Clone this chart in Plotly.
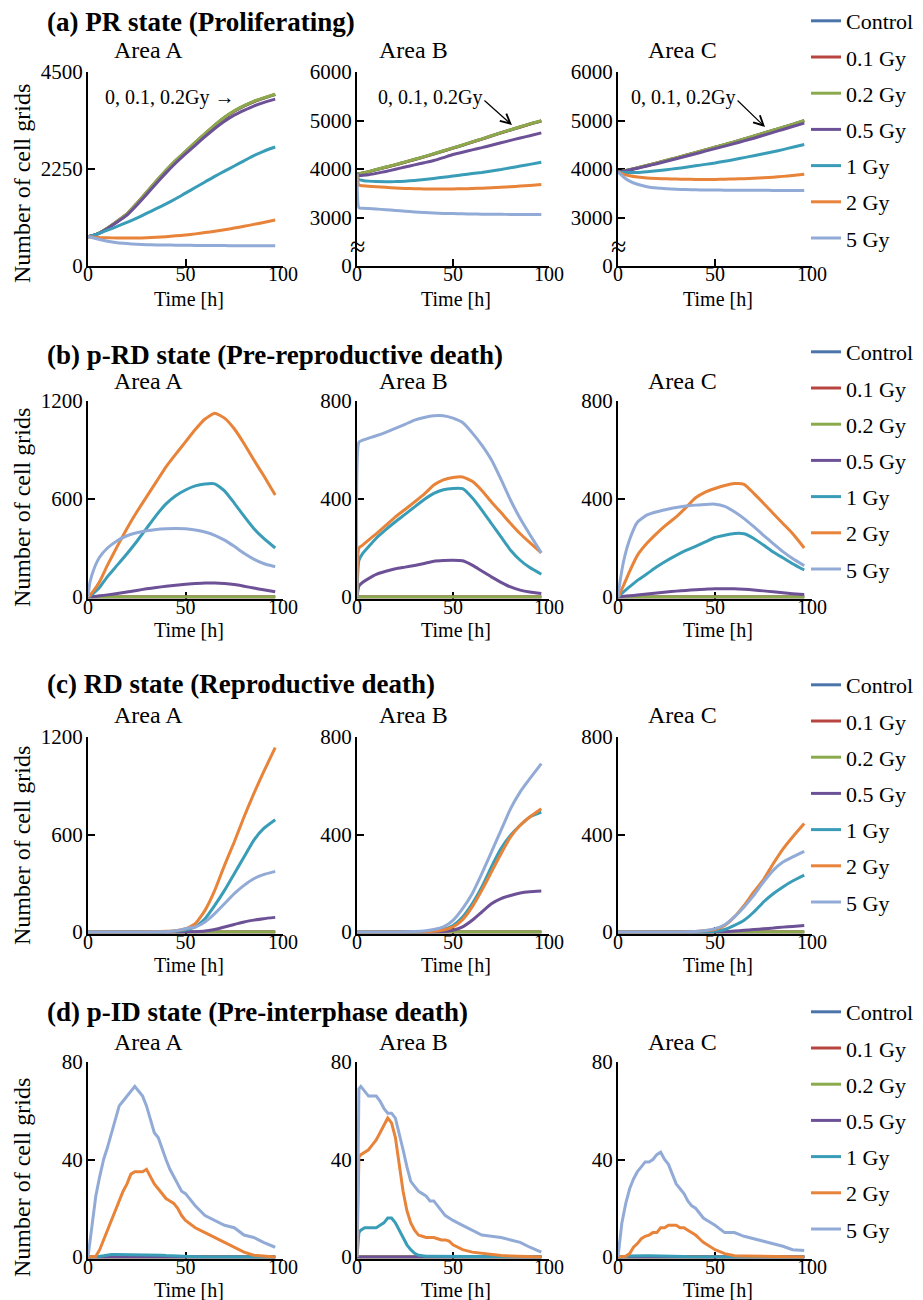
import plotly.graph_objects as go
from plotly.subplots import make_subplots

W, H = 923, 1300
FONT = "Liberation Serif, Times New Roman, serif"

DOSES = ["Control", "0.1 Gy", "0.2 Gy", "0.5 Gy", "1 Gy", "2 Gy", "5 Gy"]
COLORS = ["#4A74AA", "#B8443F", "#8BAA4B", "#6D5196", "#3A9DB8", "#E8833A", "#92ABD6"]

AREAS = ["Area A", "Area B", "Area C"]
ROW_TITLES = [
    "(a) PR state (Proliferating)",
    "(b) p-RD state (Pre-reproductive death)",
    "(c) RD state (Reproductive death)",
    "(d) p-ID state (Pre-interphase death)",
]
X_TITLE = "Time [h]"
Y_TITLE = "Number of cell grids"

# time points [h]
TIME = [0, 1, 3, 6, 10, 15, 20, 25, 30, 35, 40, 45, 50, 55, 60, 65, 70, 75, 80, 85, 90, 96]
TIME_PID = [0, 1, 2, 4, 6, 8, 10, 12, 14, 16, 18, 20, 22, 24, 26, 28, 30, 32, 34, 36, 38,
            40, 42, 44, 46, 48, 50, 55, 60, 65, 70, 75, 80, 85, 90, 96]

ZERO = [0, 0, 0, 0, 0, 0, 0, 0, 0, 0, 0, 0, 0, 0, 0, 0, 0, 0, 0, 0, 0, 0]
ZERO_PID = [0, 0, 0, 0, 0, 0, 0, 0, 0, 0, 0, 0, 0, 0, 0, 0, 0, 0, 0, 0, 0, 0, 0, 0, 0, 0,
            0, 0, 0, 0, 0, 0, 0, 0, 0, 0]

# ---- (a) PR state: series in DOSES order ----
PR_AREA_A = [
    [680, 688, 712, 768, 875, 1035, 1205, 1445, 1700, 1960, 2210, 2440, 2650, 2860, 3060, 3260, 3440, 3590, 3710, 3810, 3890, 3975],
    [680, 689, 714, 769, 878, 1038, 1208, 1448, 1705, 1965, 2215, 2445, 2655, 2865, 3065, 3265, 3445, 3595, 3715, 3815, 3895, 3980],
    [680, 690, 715, 770, 880, 1040, 1210, 1450, 1710, 1970, 2220, 2450, 2660, 2870, 3070, 3270, 3450, 3600, 3720, 3820, 3900, 3985],
    [680, 688, 712, 765, 870, 1020, 1180, 1410, 1660, 1915, 2160, 2390, 2600, 2800, 3000, 3190, 3360, 3500, 3610, 3710, 3790, 3870],
    [680, 690, 715, 760, 830, 920, 1010, 1110, 1220, 1330, 1440, 1560, 1690, 1820, 1950, 2080, 2200, 2320, 2440, 2560, 2660, 2760],
    [680, 675, 668, 660, 655, 650, 648, 650, 655, 665, 680, 700, 720, 745, 775, 805, 840, 880, 920, 965, 1010, 1065],
    [680, 672, 650, 615, 575, 540, 520, 505, 495, 490, 486, 483, 480, 478, 476, 474, 473, 472, 471, 470, 469, 468],
]
PR_AREA_B = [
    [3900, 3900, 3915, 3940, 3985, 4035, 4085, 4140, 4195, 4250, 4310, 4370, 4430, 4490, 4555, 4615, 4680, 4745, 4805, 4865, 4925, 4990],
    [3900, 3902, 3917, 3942, 3987, 4037, 4087, 4142, 4197, 4252, 4312, 4372, 4432, 4492, 4557, 4617, 4682, 4747, 4807, 4867, 4927, 4992],
    [3900, 3905, 3920, 3945, 3990, 4040, 4090, 4145, 4200, 4255, 4315, 4375, 4435, 4495, 4560, 4620, 4685, 4750, 4810, 4870, 4930, 4995],
    [3900, 3865, 3870, 3880, 3910, 3950, 3995, 4040, 4085, 4130, 4175, 4235, 4300, 4345, 4395, 4440, 4490, 4540, 4590, 4640, 4685, 4745],
    [3900, 3780, 3765, 3750, 3740, 3737, 3740, 3750, 3765, 3785, 3805, 3830, 3855, 3880, 3905, 3930, 3960, 3990, 4025, 4060, 4095, 4140],
    [3900, 3665, 3655, 3645, 3635, 3622, 3610, 3600, 3593, 3590, 3588, 3588, 3590, 3593, 3598, 3605, 3612, 3622, 3635, 3648, 3662, 3680],
    [3900, 3200, 3192, 3185, 3175, 3160, 3145, 3130, 3115, 3102, 3092, 3085, 3080, 3076, 3072, 3069, 3067, 3065, 3064, 3063, 3062, 3062],
]
PR_AREA_C = [
    [3940, 3944, 3958, 3983, 4022, 4072, 4122, 4177, 4227, 4282, 4337, 4392, 4447, 4502, 4557, 4617, 4677, 4737, 4797, 4857, 4917, 4995],
    [3940, 3945, 3959, 3984, 4023, 4073, 4123, 4178, 4228, 4283, 4338, 4393, 4448, 4503, 4558, 4618, 4678, 4738, 4798, 4858, 4918, 4997],
    [3940, 3945, 3960, 3985, 4025, 4075, 4125, 4180, 4230, 4285, 4340, 4395, 4450, 4505, 4560, 4620, 4680, 4740, 4800, 4860, 4920, 5000],
    [3940, 3943, 3955, 3978, 4015, 4062, 4110, 4160, 4210, 4262, 4315, 4368, 4420, 4472, 4525, 4580, 4635, 4695, 4755, 4815, 4875, 4945],
    [3940, 3935, 3930, 3928, 3930, 3945, 3965, 3985, 4010, 4035, 4065, 4095, 4125, 4160, 4195, 4235, 4275, 4315, 4355, 4400, 4450, 4505],
    [3940, 3920, 3890, 3860, 3835, 3815, 3805, 3797, 3792, 3788, 3786, 3785, 3786, 3789, 3794, 3800, 3808, 3818, 3832, 3848, 3866, 3890],
    [3940, 3905, 3830, 3750, 3685, 3635, 3608, 3592, 3582, 3576, 3571, 3568, 3566, 3564, 3563, 3562, 3561, 3560, 3559, 3558, 3558, 3557],
]

# ---- (b) p-RD state ----
PRD_AREA_A = [
    ZERO, ZERO, ZERO,
    [0, 1, 3, 7, 13, 21, 30, 40, 50, 58, 66, 72, 78, 82, 85, 85, 82, 76, 66, 55, 44, 32],
    [0, 5, 25, 60, 125, 195, 265, 340, 420, 500, 570, 620, 655, 680, 692, 693, 650, 575, 495, 420, 360, 300],
    [0, 10, 40, 95, 195, 310, 420, 520, 613, 705, 797, 875, 950, 1025, 1090, 1125, 1095, 1030, 940, 840, 745, 625],
    [0, 90, 170, 245, 300, 345, 375, 393, 405, 413, 418, 420, 418, 410, 398, 378, 348, 310, 268, 232, 205, 185],
]
PRD_AREA_B = [
    ZERO, ZERO, ZERO,
    [0, 45, 60, 75, 92, 105, 115, 122, 129, 137, 146, 149, 150, 148, 130, 106, 82, 60, 41, 28, 20, 14],
    [0, 150, 178, 205, 240, 275, 307, 337, 368, 398, 423, 438, 443, 442, 405, 355, 300, 245, 191, 150, 120, 93],
    [0, 200, 212, 232, 258, 292, 327, 357, 388, 420, 457, 478, 488, 490, 472, 435, 388, 345, 300, 258, 222, 180],
    [0, 632, 640, 648, 658, 672, 688, 705, 722, 733, 740, 740, 730, 712, 670, 620, 560, 480, 395, 320, 255, 180],
]
PRD_AREA_C = [
    ZERO, ZERO, ZERO,
    [0, 1, 3, 5, 8, 12, 16, 20, 24, 27, 30, 32, 34, 34, 34, 32, 29, 25, 21, 17, 13, 10],
    [0, 8, 22, 42, 68, 95, 123, 148, 170, 190, 207, 225, 243, 252, 259, 258, 239, 212, 184, 160, 136, 110],
    [0, 15, 50, 105, 170, 220, 260, 295, 327, 365, 405, 428, 443, 455, 463, 460, 423, 383, 341, 300, 259, 200],
    [0, 60, 150, 235, 305, 335, 348, 357, 365, 371, 375, 378, 379, 370, 348, 320, 287, 252, 218, 185, 157, 128],
]

# ---- (c) RD state ----
RD_AREA_A = [
    ZERO, ZERO, ZERO,
    [0, 0, 0, 0, 0, 0, 0, 0, 0, 0, 0, 0, 0, 2, 6, 15, 31, 46, 62, 73, 82, 90],
    [0, 0, 0, 0, 0, 0, 0, 0, 0, 0, 1, 4, 12, 31, 82, 164, 256, 359, 461, 564, 636, 691],
    [0, 0, 0, 0, 0, 0, 0, 0, 1, 2, 4, 8, 20, 51, 133, 256, 410, 554, 708, 851, 984, 1134],
    [0, 0, 0, 0, 0, 0, 0, 0, 0, 1, 2, 8, 20, 31, 62, 113, 174, 236, 287, 328, 353, 373],
]
RD_AREA_B = [
    ZERO, ZERO, ZERO,
    [0, 0, 0, 0, 0, 0, 0, 0, 0, 0, 0, 2, 7, 21, 48, 82, 116, 137, 150, 160, 165, 168],
    [0, 0, 0, 0, 0, 0, 0, 0, 0, 1, 4, 10, 27, 62, 116, 185, 267, 342, 397, 438, 472, 492],
    [0, 0, 0, 0, 0, 0, 0, 0, 0, 1, 3, 8, 21, 51, 103, 171, 246, 321, 390, 438, 472, 506],
    [0, 0, 0, 0, 0, 0, 0, 1, 2, 4, 10, 21, 48, 96, 157, 239, 328, 417, 506, 575, 629, 691],
]
RD_AREA_C = [
    ZERO, ZERO, ZERO,
    [0, 0, 0, 0, 0, 0, 0, 0, 0, 0, 0, 0, 0, 1, 4, 7, 10, 13, 16, 20, 23, 27],
    [0, 0, 0, 0, 0, 0, 0, 0, 0, 0, 0, 0, 3, 10, 27, 48, 82, 123, 157, 185, 209, 233],
    [0, 0, 0, 0, 0, 0, 0, 0, 0, 0, 2, 5, 10, 27, 62, 109, 164, 215, 280, 340, 390, 445],
    [0, 0, 0, 0, 0, 0, 0, 0, 0, 1, 2, 6, 14, 30, 62, 103, 150, 205, 253, 287, 308, 331],
]

# ---- (d) p-ID state ----
PID_AREA_A = [
    ZERO_PID, ZERO_PID, ZERO_PID, ZERO_PID,
    [0, 0, 0, 0, 0.3, 0.5, 0.8, 1, 1, 1, 1, 1, 1, 1, 1, 1, 1, 1, 1, 0.8, 0.7, 0.6, 0.5, 0.4,
     0.3, 0.3, 0.2, 0.1, 0, 0, 0, 0, 0, 0, 0, 0],
    [0, 0, 0, 0.3, 3, 7, 11, 15, 19, 23, 27, 30, 34, 35, 35, 35, 36, 33, 30, 28, 26, 24, 23, 22,
     20, 17, 15, 12, 10, 8, 6, 4, 2, 0.7, 0.3, 0],
    [0, 6, 14, 25, 33, 40, 45, 51, 57, 62, 64, 66, 68, 70, 68, 66, 62, 56, 51, 49, 44, 40, 36, 33,
     30, 27, 26, 21, 17, 15, 13, 12, 9, 8, 6, 4],
]
PID_AREA_B = [
    ZERO_PID, ZERO_PID, ZERO_PID, ZERO_PID,
    [0, 10, 11, 12, 12, 12, 12, 13, 14, 16, 16, 14, 11, 8, 5, 3, 1.5, 0.7, 0.4, 0.3, 0.3, 0.3,
     0.2, 0.2, 0.1, 0.1, 0, 0, 0, 0, 0, 0, 0, 0, 0, 0],
    [0, 41, 42, 43, 44, 46, 48, 51, 54, 57, 55, 49, 38, 27, 19, 14, 11, 9, 8.5, 8, 8, 8, 7.5, 7,
     7, 6.5, 5, 3, 2, 1.5, 1, 0.6, 0.4, 0.2, 0.1, 0],
    [0, 69, 70, 68, 66, 66, 66, 64, 61, 59, 59, 57, 51, 44, 37, 31, 29, 27, 26, 25, 23, 23, 21, 19,
     17, 16, 15, 13, 11, 9, 8.5, 8, 7, 6, 4, 2],
]
PID_AREA_C = [
    ZERO_PID, ZERO_PID, ZERO_PID, ZERO_PID,
    [0, 0, 0, 0.2, 0.4, 0.5, 0.5, 0.5, 0.5, 0.5, 0.5, 0.5, 0.5, 0.5, 0.5, 0.5, 0.4, 0.3, 0.2, 0.1,
     0, 0, 0, 0, 0, 0, 0, 0, 0, 0, 0, 0, 0, 0, 0, 0],
    [0, 0, 0, 0.3, 1.4, 4, 5.5, 7.5, 8.5, 9, 10, 10, 12, 12, 13, 13, 13, 12, 12, 11, 10, 9, 7.5, 6,
     5, 4, 3, 1.4, 0.5, 0.4, 0.3, 0.2, 0.2, 0.1, 0, 0],
    [0, 7, 14, 22, 28, 32, 35, 37, 39, 39, 40, 42, 43, 40, 38, 34, 30, 28, 26, 23, 21, 20, 18, 16,
     15, 14, 13, 10, 10, 8.5, 7.5, 6.6, 5.5, 4.4, 3, 2.7],
]

PANELS = [
    [PR_AREA_A, PR_AREA_B, PR_AREA_C],
    [PRD_AREA_A, PRD_AREA_B, PRD_AREA_C],
    [RD_AREA_A, RD_AREA_B, RD_AREA_C],
    [PID_AREA_A, PID_AREA_B, PID_AREA_C],
]

# y-axis: (low, high, tick values, tick labels)
BROKEN_TICKS = ["0", "3000", "4000", "5000", "6000"]
Y_AXES = [
    [(0, 4500, [0, 2250, 4500], None),
     (2000, 6000, [2000, 3000, 4000, 5000, 6000], BROKEN_TICKS),
     (2000, 6000, [2000, 3000, 4000, 5000, 6000], BROKEN_TICKS)],
    [(0, 1200, [0, 600, 1200], None), (0, 800, [0, 400, 800], None), (0, 800, [0, 400, 800], None)],
    [(0, 1200, [0, 600, 1200], None), (0, 800, [0, 400, 800], None), (0, 800, [0, 400, 800], None)],
    [(0, 80, [0, 40, 80], None), (0, 80, [0, 40, 80], None), (0, 80, [0, 40, 80], None)],
]

# ---- layout geometry (pixels) ----
COL_PX = [(88, 283), (357, 549), (618, 812)]
ROW_PX = [(72, 266), (401, 597), (737, 932), (1062, 1257)]
ROW_TITLE_Y = [22, 355, 684, 1012]
AREA_TITLE_X = [148, 413, 682]
AREA_TITLE_Y = [50, 381, 715, 1042]
YTITLE_Y = [184, 508, 846, 1178]
LEGEND_TOP = [0, 331, 664, 991]
LEGEND_X = 806


def fx(p):
    return p / W


def fy(p):
    return 1 - p / H


fig = make_subplots(rows=4, cols=3)

for r in range(4):
    legend_key = "legend" if r == 0 else f"legend{r + 1}"
    time = TIME_PID if r == 3 else TIME
    shape = "linear" if r == 3 else "spline"
    for c in range(3):
        series = PANELS[r][c]
        for k, dose in enumerate(DOSES):
            line = dict(color=COLORS[k], width=3, shape=shape)
            if shape == "spline":
                line["smoothing"] = 0.5
            fig.add_trace(
                go.Scatter(
                    x=time, y=series[k], mode="lines", name=dose, line=line,
                    legend=legend_key, legendgroup=f"{r}-{dose}",
                    showlegend=(c == 0), hoverinfo="skip",
                ),
                row=r + 1, col=c + 1,
            )

axis_common = dict(
    showline=True, linewidth=2, linecolor="black", mirror=False,
    ticks="inside", ticklen=7, tickwidth=2, tickcolor="black",
    showgrid=False, zeroline=False, layer="below traces",
)

for r in range(4):
    top, zero = ROW_PX[r]
    for c in range(3):
        idx = r * 3 + c + 1
        suffix = "" if idx == 1 else str(idx)
        lo, hi, tv, tt = Y_AXES[r][c]
        pad = 0.0 if r == 0 else 0.008
        span = hi - lo
        bottom = zero + pad * (zero - top)
        x0, x1 = COL_PX[c]
        fig.update_layout({
            f"xaxis{suffix}": dict(
                axis_common, domain=[fx(x0), fx(x1)], range=[0, 100],
                tickvals=[0, 50, 100], ticklabelstandoff=-11,
                tickfont=dict(family=FONT, size=20, color="black"),
            ),
            f"yaxis{suffix}": dict(
                axis_common, domain=[fy(bottom), fy(top)], range=[lo - pad * span, hi],
                tickvals=tv, ticktext=tt if tt else [str(v) for v in tv],
                ticklabelstandoff=-1,
                tickfont=dict(family=FONT, size=21, color="black"),
            ),
        })

annotations = []
for r in range(4):
    annotations.append(dict(
        text=f"<b>{ROW_TITLES[r]}</b>", xref="paper", yref="paper",
        x=fx(45), y=fy(ROW_TITLE_Y[r]), xanchor="left", yanchor="middle",
        showarrow=False, font=dict(family=FONT, size=27, color="black"),
    ))
    annotations.append(dict(
        text=Y_TITLE, xref="paper", yref="paper",
        x=fx(22), y=fy(YTITLE_Y[r]), xanchor="center", yanchor="middle", textangle=-90,
        showarrow=False, font=dict(family=FONT, size=24, color="black"),
    ))
    for c in range(3):
        annotations.append(dict(
            text=AREAS[c], xref="paper", yref="paper",
            x=fx(AREA_TITLE_X[c]), y=fy(AREA_TITLE_Y[r]), xanchor="center", yanchor="middle",
            showarrow=False, font=dict(family=FONT, size=24, color="black"),
        ))
        x0, x1 = COL_PX[c]
        annotations.append(dict(
            text=X_TITLE, xref="paper", yref="paper",
            x=fx((x0 + x1) / 2 + 3), y=fy(ROW_PX[r][1] + 33), xanchor="center", yanchor="middle",
            showarrow=False, font=dict(family=FONT, size=20, color="black"),
        ))

note_font = dict(family=FONT, size=20, color="black")
# PR state labels for the unirradiated / low-dose group
annotations.append(dict(
    text="0, 0.1, 0.2Gy \u2192", xref="paper", yref="paper", x=fx(103), y=fy(97),
    xanchor="left", yanchor="middle", showarrow=False, font=note_font,
))
annotations.append(dict(
    text="0, 0.1, 0.2Gy", xref="paper", yref="paper", x=fx(484), y=fy(97),
    xanchor="right", yanchor="middle", showarrow=False, font=note_font,
))
annotations.append(dict(
    text="0, 0.1, 0.2Gy", xref="paper", yref="paper", x=fx(737), y=fy(97),
    xanchor="right", yanchor="middle", showarrow=False, font=note_font,
))
annotations.append(dict(
    text="", xref="x2", yref="y2", x=80.7, y=4905, ax=-29, ay=-26,
    showarrow=True, arrowhead=5, arrowsize=1.6, arrowwidth=1.2, arrowcolor="black",
))
annotations.append(dict(
    text="", xref="x3", yref="y3", x=75.8, y=4865, ax=-29, ay=-28,
    showarrow=True, arrowhead=5, arrowsize=1.6, arrowwidth=1.2, arrowcolor="black",
))
# axis break marks on the truncated PR axes
for xr in ("x2", "x3"):
    annotations.append(dict(
        text="\u2248", xref=xr, yref="y" + xr[1:], x=0, y=2400,
        xanchor="center", yanchor="middle", showarrow=False,
        font=dict(family=FONT, size=28, color="black"),
    ))

fig.update_layout(annotations=annotations)

legend_font = dict(family=FONT, size=22, color="black")
for r in range(4):
    key = "legend" if r == 0 else f"legend{r + 1}"
    fig.update_layout({key: dict(
        x=fx(LEGEND_X), y=fy(LEGEND_TOP[r]), xanchor="left", yanchor="top",
        font=legend_font, traceorder="grouped", tracegroupgap=4.6,
        bgcolor="rgba(0,0,0,0)", borderwidth=0, itemclick=False, itemdoubleclick=False,
    )})

fig.update_layout(
    width=W, height=H,
    margin=dict(l=0, r=0, t=0, b=0, autoexpand=False),
    plot_bgcolor="white", paper_bgcolor="white", showlegend=True,
)

fig.write_html("out.html")
